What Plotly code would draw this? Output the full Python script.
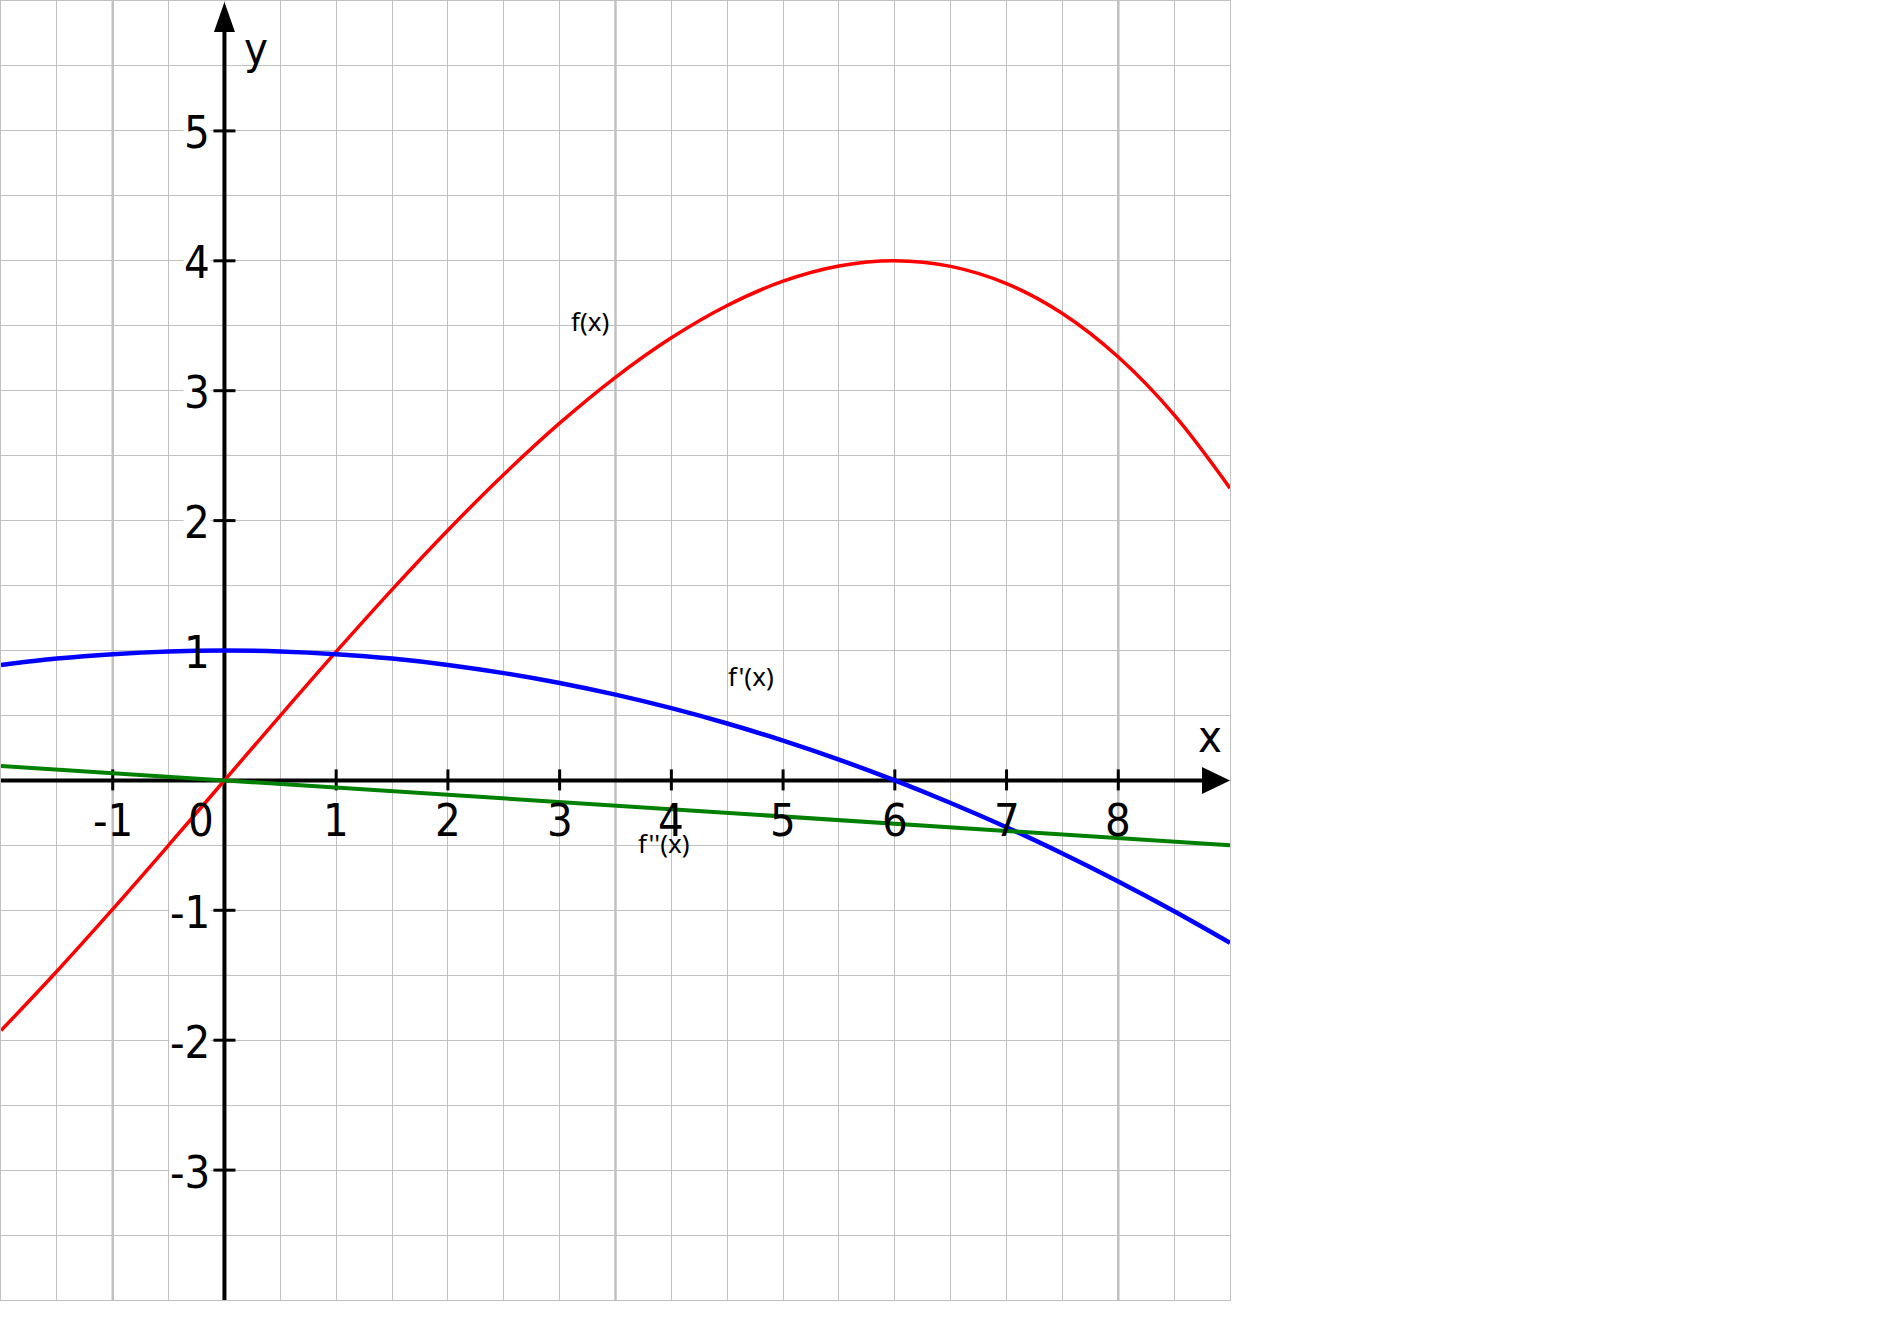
import plotly.graph_objects as go

# sample points
x_vals = [-2, -1.5, -1, -0.5, 0, 0.5, 1, 1.5, 2, 2.5, 3, 3.5, 4, 4.5,
          5, 5.5, 6, 6.5, 7, 7.5, 8, 8.5, 9]
f_vals = [-1.926, -1.469, -0.991, -0.499, 0.000, 0.499, 0.991, 1.469, 1.926, 2.355, 2.750, 3.103,
          3.407, 3.656, 3.843, 3.960, 4.000, 3.957, 3.824, 3.594, 3.259, 2.814, 2.250]
f1_vals = [0.889, 0.938, 0.972, 0.993, 1.000, 0.993, 0.972, 0.938, 0.889, 0.826, 0.750, 0.660,
           0.556, 0.438, 0.306, 0.160, 0.000, -0.174, -0.361, -0.563, -0.778, -1.007, -1.250]
f2_vals = [0.111, 0.083, 0.056, 0.028, 0.000, -0.028, -0.056, -0.083, -0.111, -0.139, -0.167, -0.194,
           -0.222, -0.250, -0.278, -0.306, -0.333, -0.361, -0.389, -0.417, -0.444, -0.472, -0.500]

x_ticks = [-1, 1, 2, 3, 4, 5, 6, 7, 8]
y_ticks = [-3, -2, -1, 1, 2, 3, 4, 5]
major_x = [-1, 3.5, 8]

X_RANGE = [-2, 9]
Y_RANGE = [-4, 6]
GRID = "#c0c0c0"
AXIS_FONT = dict(family="DejaVu Sans Condensed, DejaVu Sans, sans-serif", size=45, color="black")
NAME_FONT = dict(family="Noto Sans, Open Sans, sans-serif", size=26, color="black")

fig = go.Figure()
fig.add_trace(go.Scatter(x=x_vals, y=f_vals, mode="lines", line=dict(color="#ff0000", width=3.5, shape="spline")))
fig.add_trace(go.Scatter(x=x_vals, y=f1_vals, mode="lines", line=dict(color="#0000ff", width=4.5, shape="spline")))
fig.add_trace(go.Scatter(x=x_vals, y=f2_vals, mode="lines", line=dict(color="#008000", width=4)))

shapes = []
for mx in major_x:
    shapes.append(dict(type="line", x0=mx, x1=mx, y0=Y_RANGE[0], y1=Y_RANGE[1],
                       line=dict(color=GRID, width=2.5), layer="below"))

# axes with arrow heads
shapes.append(dict(type="line", x0=X_RANGE[0], x1=X_RANGE[1] - 0.1, y0=0, y1=0,
                   line=dict(color="black", width=4), layer="between"))
shapes.append(dict(type="line", x0=0, x1=0, y0=Y_RANGE[0], y1=Y_RANGE[1] - 0.1,
                   line=dict(color="black", width=4), layer="between"))
shapes.append(dict(type="path", xsizemode="pixel", ysizemode="pixel", xanchor=X_RANGE[1], yanchor=0,
                   path="M 0,0 L -28,13.5 L -28,-13.5 Z", fillcolor="black", line=dict(width=0),
                   layer="between"))
shapes.append(dict(type="path", xsizemode="pixel", ysizemode="pixel", xanchor=0, yanchor=Y_RANGE[1],
                   path="M 0,-1 L -10.5,-31 L 10.5,-31 Z", fillcolor="black", line=dict(width=0),
                   layer="between"))
for t in x_ticks:
    shapes.append(dict(type="line", x0=t, x1=t, ysizemode="pixel", yanchor=0, y0=-10, y1=11,
                       line=dict(color="black", width=3), layer="between"))
for t in y_ticks:
    shapes.append(dict(type="line", y0=t, y1=t, xsizemode="pixel", xanchor=0, x0=-11, x1=11,
                       line=dict(color="black", width=3), layer="between"))

annotations = []
for t in x_ticks:
    annotations.append(dict(x=t, y=0, text=str(t), showarrow=False, font=AXIS_FONT,
                            xanchor="center", yanchor="middle", yshift=-40))
annotations.append(dict(x=0, y=0, text="0", showarrow=False, font=AXIS_FONT,
                        xanchor="center", yanchor="middle", xshift=-23, yshift=-40))
for t in y_ticks:
    annotations.append(dict(x=0, y=t, text=str(t), showarrow=False, font=AXIS_FONT,
                            xanchor="right", yanchor="middle", xshift=-13, yshift=-2,
                            bgcolor="white" if t != 1 else None, borderpad=0))
annotations.append(dict(x=0, y=Y_RANGE[1], text="y", showarrow=False, font=AXIS_FONT,
                        xanchor="center", yanchor="middle", xshift=32, yshift=-47))
annotations.append(dict(x=X_RANGE[1], y=0, text="x", showarrow=False, font=AXIS_FONT,
                        xanchor="center", yanchor="middle", xshift=-20, yshift=44))

annotations.append(dict(x=3.27, y=3.54, text="f(x)", showarrow=False, font=NAME_FONT))
annotations.append(dict(x=4.71, y=0.80, text="f'(x)", showarrow=False, font=NAME_FONT))
annotations.append(dict(x=3.93, y=-0.48, text="f''(x)", showarrow=False, font=NAME_FONT))

axis_common = dict(showgrid=True, gridcolor=GRID, gridwidth=1, dtick=0.5, tick0=0,
                   showticklabels=False, ticks="", zeroline=False,
                   showline=True, mirror=True, linecolor=GRID, linewidth=1, fixedrange=True)

fig.update_layout(
    width=1882,
    height=1322,
    margin=dict(l=1, r=652, t=1, b=22),
    paper_bgcolor="white",
    plot_bgcolor="white",
    showlegend=False,
    xaxis=dict(range=X_RANGE, **axis_common),
    yaxis=dict(range=Y_RANGE, **axis_common),
    shapes=shapes,
    annotations=annotations,
)

# drop the browser's default body margin so the chart sits at the page corner
fig.write_html("out.html", config={"displayModeBar": False},
               post_script="document.body.style.margin='0';document.body.style.overflow='hidden';")
